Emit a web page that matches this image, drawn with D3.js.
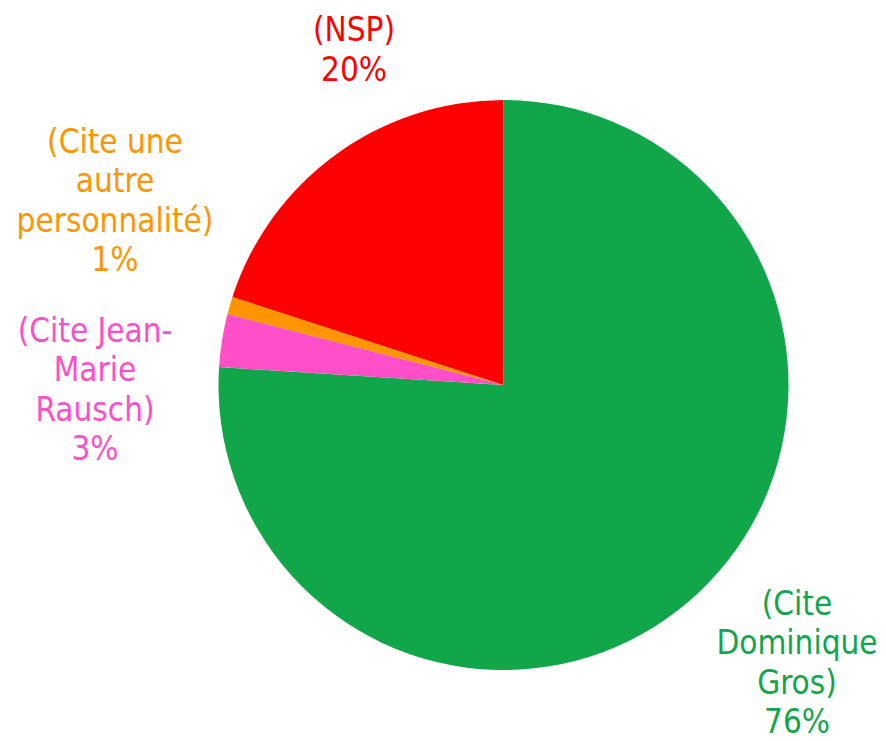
<!DOCTYPE html>
<html><head><meta charset="utf-8">
<script src="https://cdn.jsdelivr.net/npm/d3@7"></script>
<style>html,body{margin:0;padding:0;background:#fff;}svg{display:block;}</style>
</head><body>
<script>
const categories = ["(Cite Dominique Gros)", "(Cite Jean-Marie Rausch)", "(Cite une autre personnalité)", "(NSP)"];
const values = [76, 3, 1, 20];
const labelLines = [["(Cite", "Dominique", "Gros)"], ["(Cite Jean-", "Marie", "Rausch)"], ["(Cite une", "autre", "personnalité)"], ["(NSP)"]];
const colors = ["#12A64B", "#FF4FC8", "#FF9500", "#FF0000"];

const W = 886, H = 741;
const cx = 503.5, cy = 385, R = 285;
const svg = d3.select("body").append("svg").attr("width", W).attr("height", H);
const g = svg.append("g").attr("transform", `translate(${cx},${cy})`);

const pie = d3.pie().sort(null).value(d => d);
const arcs = pie(values);
const arc = d3.arc().innerRadius(0).outerRadius(R);

g.selectAll("path").data(arcs).enter().append("path")
  .attr("d", arc).attr("fill", (d, i) => colors[i]);

// label block centers (layout)
const labelPos = [[797, 662], [95, 389], [115, 200], [354, 49]];
const lh = 39.5;
const fontSize = 33;
arcs.forEach((a, i) => {
  const lines = labelLines[i].concat([d3.format(".0%")(values[i] / 100)]);
  const n = lines.length;
  const [lx, ly] = labelPos[i];
  const t = svg.append("text")
    .attr("text-anchor", "middle")
    .attr("font-family", "'DejaVu Sans Condensed', 'DejaVu Sans', sans-serif")
    .attr("font-size", fontSize)
    .attr("fill", colors[i]);
  lines.forEach((s, k) => {
    t.append("tspan").attr("x", lx)
      .attr("y", ly + (k - (n - 1) / 2) * lh + fontSize * 0.36)
      .text(s);
  });
});
</script>
</body></html>
